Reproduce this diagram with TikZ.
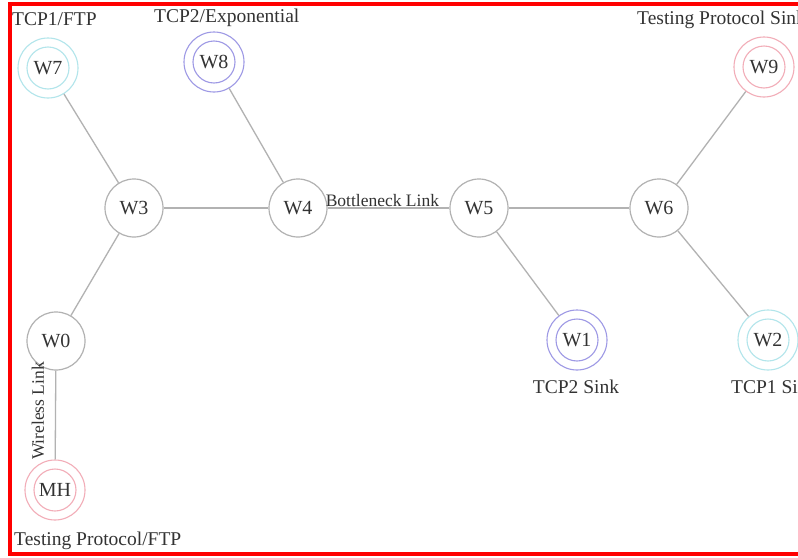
\documentclass[tikz,border=0pt]{standalone}
\usepackage{fontspec}
\setmainfont{Liberation Serif}
\begin{document}
\begin{tikzpicture}[x=1pt,y=-1pt,
  plain/.style={circle,draw=black!30,line width=1.2pt,minimum size=58pt,inner sep=0pt,font=\fontsize{20}{22}\selectfont,text=black!80},
  dbl/.style={circle,draw=#1,line width=1.1pt,minimum size=60pt,inner sep=0pt,font=\fontsize{20}{22}\selectfont,text=black!80,
     append after command={\pgfextra{\draw[#1,line width=1.1pt] (\tikzlastnode.center) circle[radius=21pt];}}},
  link/.style={draw=black!30,line width=1.3pt},
  lbl/.style={font=\fontsize{19.5}{21}\selectfont,text=black!80,inner sep=0pt},
  llbl/.style={font=\fontsize{17.5}{19}\selectfont,text=black!80,inner sep=0pt}]
\useasboundingbox (0,0) rectangle (798,557);
\clip (0,0) rectangle (798,557);
\fill[white] (0,0) rectangle (798,557);
\definecolor{cy}{rgb}{0.70,0.90,0.92}
\definecolor{bl}{rgb}{0.62,0.60,0.90}
\definecolor{pk}{rgb}{0.95,0.68,0.72}
% nodes
\node[plain] (W3) at (134,208) {W3};
\node[plain] (W4) at (298,208) {W4};
\node[plain] (W5) at (479,208) {W5};
\node[plain] (W6) at (659,208) {W6};
\node[plain] (W0) at (56,341) {W0};
\node[dbl=cy] (W7) at (48,68) {W7};
\node[dbl=bl] (W8) at (214,62) {W8};
\node[dbl=pk] (W9) at (764,67) {W9};
\node[dbl=bl] (W1) at (577,340) {W1};
\node[dbl=cy] (W2) at (768,340) {W2};
\node[dbl=pk] (MH) at (55,490) {MH};
% links
\draw[link] (W7) -- (W3);
\draw[link] (W8) -- (W4);
\draw[link] (W3) -- (W4);
\draw[link] (W3) -- (W0);
\draw[link] (W4) -- node[llbl,above=1pt,pos=0.45] (bn) {Bottleneck Link} (W5);
\draw[link] (W5) -- (W6);
\draw[link] (W5) -- (W1);
\draw[link] (W6) -- (W9);
\draw[link] (W6) -- (W2);
\draw[link] (W0) -- (MH);
\node[llbl,rotate=90] (wl) at (38,411) {Wireless Link};
% labels
\node[lbl,anchor=west] (l7) at (12,19) {TCP1/FTP};
\node[lbl,anchor=west] (l8) at (154,18) {TCP2/Exponential};
\node[lbl,anchor=west] (l9) at (637,20) {Testing Protocol Sink};
\node[lbl] (l1) at (576,387) {TCP2 Sink};
\node[lbl,anchor=west] (l2) at (731,387) {TCP1 Sink};
\node[lbl,anchor=west] (lmh) at (14,541) {Testing Protocol/FTP};
% frame
\draw[red,line width=4pt] (820,4) -- (10,4) -- (10,554) -- (820,554);
\end{tikzpicture}
\end{document}
